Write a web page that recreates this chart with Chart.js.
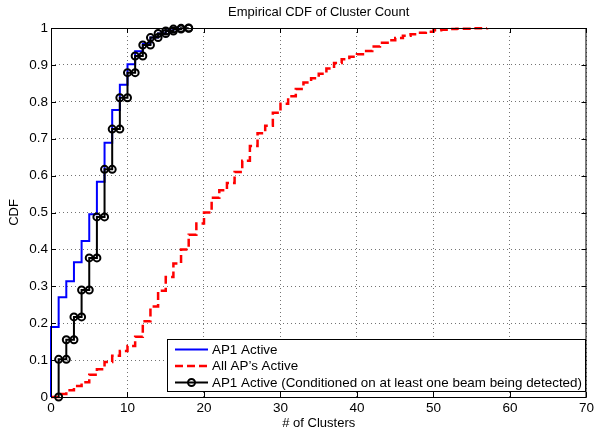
<!DOCTYPE html>
<html>
<head>
<meta charset="utf-8">
<script src="https://cdn.jsdelivr.net/npm/chart.js@4.4.1/dist/chart.umd.min.js"></script>
<style>
    html, body { margin: 0; padding: 0; background: #fff; }
    #wrap { width: 597px; height: 433px; }
</style>
</head>
<body>
<div id="wrap"><canvas id="cdfChart"></canvas></div>
<script>
// tick values
const xTicks = [0, 10, 20, 30, 40, 50, 60, 70];
const yTicks = [0, 0.1, 0.2, 0.3, 0.4, 0.5, 0.6, 0.7, 0.8, 0.9, 1];

// AP1 Active (ecdf jumps at each cluster count)
const ap1X   = [0, 1, 2, 3, 4, 5, 6, 7, 8, 9, 10, 11, 12, 13, 14, 15, 16, 17];
const ap1Cdf = [0.19, 0.27, 0.314, 0.365, 0.423, 0.495, 0.583, 0.689, 0.778, 0.846,
                0.902, 0.937, 0.957, 0.974, 0.985, 0.993, 0.998, 1.0];

// All AP's Active
const allX = [0, 1, 2, 3, 4, 5, 6, 7, 8, 9, 10, 11, 12, 13, 14, 15, 16, 17, 18, 19,
              20, 21, 22, 23, 24, 25, 26, 27, 28, 29, 30, 31, 32, 33, 34, 35, 36, 37, 38, 39,
              40, 41, 42, 43, 44, 45, 46, 47, 48, 49, 50, 51, 52, 53, 54, 55, 56, 57];
const allCdf = [0, 0.008, 0.018, 0.03, 0.04, 0.06, 0.075, 0.095, 0.112, 0.125,
                0.138, 0.163, 0.205, 0.245, 0.288, 0.325, 0.362, 0.40, 0.44, 0.47,
                0.50, 0.54, 0.56, 0.58, 0.61, 0.64, 0.68, 0.715, 0.735, 0.77,
                0.795, 0.815, 0.835, 0.852, 0.864, 0.876, 0.89, 0.905, 0.915, 0.922,
                0.929, 0.938, 0.95, 0.96, 0.967, 0.973, 0.979, 0.983, 0.987, 0.99,
                0.994, 0.995, 0.997, 0.998, 0.998, 0.999, 0.9995, 1.0];

// AP1 Active, conditioned on at least one beam being detected
const condX   = [1, 2, 3, 4, 5, 6, 7, 8, 9, 10, 11, 12, 13, 14, 15, 16, 17, 18];
const condCdf = [0.102, 0.155, 0.217, 0.29, 0.377, 0.488, 0.617, 0.726, 0.811, 0.879,
                 0.924, 0.954, 0.974, 0.985, 0.992, 0.997, 0.999, 1.0];

const legendLabels = [
    'AP1 Active',
    'All AP\u2019s Active',
    'AP1 Active (Conditioned on at least one beam being detected)'
];

const FONT = '"Liberation Sans", Arial, Helvetica, sans-serif';

// stairs vertices for the marker series (matlab puts a marker at both corners)
function stairVertices(xs, ys) {
    const pts = [{ x: xs[0], y: 0 }];
    xs.forEach((x, i) => {
        if (i > 0) pts.push({ x: x, y: ys[i - 1] });
        pts.push({ x: x, y: ys[i] });
    });
    return pts;
}

const ap1Data = [{ x: 0, y: 0 }].concat(ap1X.map((x, i) => ({ x: x, y: ap1Cdf[i] })));
const allData = allX.map((x, i) => ({ x: x, y: allCdf[i] }));
const condData = stairVertices(condX, condCdf);

// box, inward ticks, title and legend like a matlab axes
const matlabAxes = {
    id: 'matlabAxes',
    afterDraw(chart) {
        const { ctx, chartArea: a, scales } = chart;
        ctx.save();
        ctx.strokeStyle = '#000';
        ctx.lineWidth = 1;
        ctx.strokeRect(a.left + 0.5, a.top + 0.5, a.right - a.left - 1, a.bottom - a.top);
        ctx.beginPath();
        xTicks.forEach(v => {
            const px = Math.round(scales.x.getPixelForValue(v)) + 0.5;
            ctx.moveTo(px, a.bottom); ctx.lineTo(px, a.bottom - 5);
            ctx.moveTo(px, a.top); ctx.lineTo(px, a.top + 5);
        });
        yTicks.forEach(v => {
            const py = Math.round(scales.y.getPixelForValue(v)) + 0.5;
            ctx.moveTo(a.left, py); ctx.lineTo(a.left + 5, py);
            ctx.moveTo(a.right, py); ctx.lineTo(a.right - 5, py);
        });
        ctx.stroke();

        // title
        ctx.fillStyle = '#000';
        ctx.font = '13px ' + FONT;
        ctx.textAlign = 'center';
        ctx.textBaseline = 'middle';
        ctx.fillText('Empirical CDF of Cluster Count', (a.left + a.right) / 2, 12);

        // legend
        const bx = 167, by = 339, bw = 418, bh = 52;
        ctx.fillStyle = '#fff';
        ctx.fillRect(bx, by, bw, bh);
        ctx.strokeStyle = '#000';
        ctx.strokeRect(bx + 0.5, by + 0.5, bw, bh);
        const rows = [349.5, 366, 382.5];
        chart.data.datasets.forEach((ds, i) => {
            const y = rows[i];
            ctx.strokeStyle = ds.borderColor;
            ctx.lineWidth = ds.borderWidth;
            ctx.setLineDash(ds.borderDash || []);
            ctx.beginPath();
            ctx.moveTo(175, y); ctx.lineTo(208, y);
            ctx.stroke();
            ctx.setLineDash([]);
            if (ds.pointRadius > 0) {
                ctx.lineWidth = ds.pointBorderWidth;
                ctx.beginPath();
                ctx.arc(191.5, y, ds.pointRadius, 0, Math.PI * 2);
                ctx.stroke();
            }
            ctx.fillStyle = '#000';
            ctx.font = '13.4px ' + FONT;
            ctx.textAlign = 'left';
            ctx.textBaseline = 'middle';
            ctx.fillText(legendLabels[i], 212, y + 0.5);
        });
        ctx.restore();
    }
};

new Chart(document.getElementById('cdfChart'), {
    type: 'line',
    data: {
        datasets: [
            {
                label: legendLabels[0],
                data: ap1Data,
                borderColor: '#0000ff',
                borderWidth: 2,
                stepped: true,
                pointRadius: 0,
                clip: false,
                order: 1
            },
            {
                label: legendLabels[1],
                data: allData,
                borderColor: '#ff0000',
                borderWidth: 2.5,
                borderDash: [8, 4],
                stepped: true,
                pointRadius: 0,
                clip: false,
                order: 2
            },
            {
                label: legendLabels[2],
                data: condData,
                borderColor: '#000000',
                borderWidth: 2,
                pointRadius: 3.5,
                pointBorderWidth: 2,
                pointBorderColor: '#000000',
                pointBackgroundColor: 'rgba(0,0,0,0)',
                clip: false,
                order: 0
            }
        ]
    },
    options: {
        responsive: true,
        maintainAspectRatio: false,
        animation: false,
        layout: { padding: { top: 28, right: 7, left: 0, bottom: 0 } },
        plugins: {
            legend: { display: false },
            title: { display: false },
            tooltip: { enabled: false }
        },
        scales: {
            x: {
                type: 'linear',
                min: 0,
                max: 70,
                afterFit: (scale) => { scale.height = 36; },
                afterBuildTicks: (scale) => { scale.ticks = xTicks.map(v => ({ value: v })); },
                ticks: {
                    padding: 3,
                    color: '#000',
                    font: { family: FONT, size: 13.5 },
                    maxRotation: 0,
                    callback: (v) => String(v)
                },
                grid: { color: 'rgba(0,0,0,0.55)', lineWidth: 1, drawTicks: false },
                border: { display: false, dash: [1, 3] },
                title: {
                    display: true,
                    text: '# of Clusters',
                    color: '#000',
                    font: { family: FONT, size: 13 },
                    padding: { top: 0, bottom: 2 }
                }
            },
            y: {
                min: 0,
                max: 1,
                afterFit: (scale) => { scale.width = 51; },
                afterBuildTicks: (scale) => { scale.ticks = yTicks.map(v => ({ value: v })); },
                ticks: {
                    padding: 3,
                    color: '#000',
                    font: { family: FONT, size: 13.5 },
                    callback: (v) => String(Math.round(v * 10) / 10)
                },
                grid: { color: 'rgba(0,0,0,0.55)', lineWidth: 1, drawTicks: false },
                border: { display: false, dash: [1, 3] },
                title: {
                    display: true,
                    text: 'CDF',
                    color: '#000',
                    font: { family: FONT, size: 13 },
                    padding: { top: 7, bottom: 0 }
                }
            }
        }
    },
    plugins: [matlabAxes]
});
</script>
</body>
</html>
